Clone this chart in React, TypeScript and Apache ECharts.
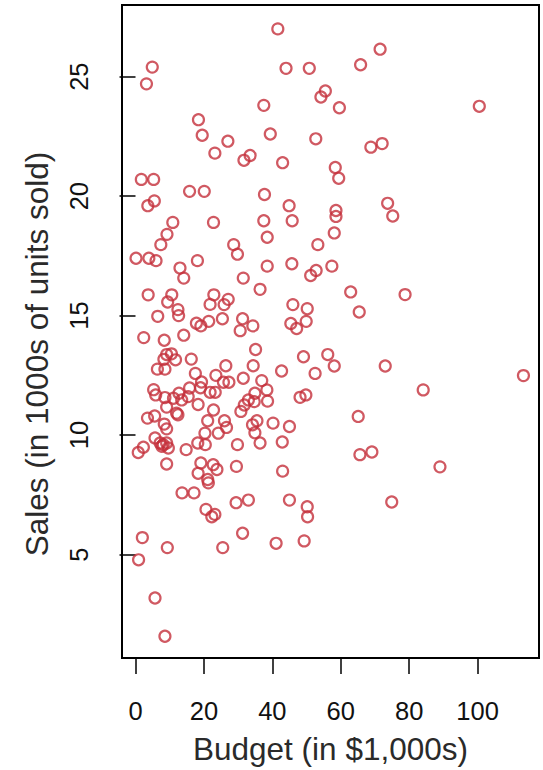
import React, { useEffect, useRef } from "react";
import * as echarts from "echarts";

const budget: number[] = [
  4.9, 3.2, 18.4, 19.5, 27.0, 23.2, 33.5, 31.7, 1.7, 5.3, 15.8, 20.1, 5.5, 3.6, 10.9, 22.8,
  41.6, 71.5, 44.0, 50.8, 65.8, 55.5, 54.2, 59.6, 37.5, 39.4, 52.7, 68.8, 72.1, 43.0, 58.4, 59.4,
  37.7, 44.9, 37.5, 45.8, 58.6, 58.6, 73.7, 75.2, 100.5, 58.1, 9.2, 7.4, 0.15, 3.9, 6.0, 13.0,
  14.1, 18.1, 28.7, 29.8, 31.5, 36.4, 3.7, 10.6, 9.4, 12.4, 12.6, 6.5, 22.9, 21.8, 27.1, 25.9,
  25.4, 31.3, 34.3, 30.6, 17.8, 19.1, 21.4, 2.4, 8.4, 14.1, 35.1, 9.1, 10.5, 11.7, 8.3, 16.3,
  6.4, 8.6, 26.4, 34.4, 17.5, 23.5, 31.5, 19.3, 19.0, 25.7, 27.3, 15.8, 5.3, 5.9, 21.8, 23.3,
  8.6, 11.1, 12.7, 13.5, 15.4, 18.3, 9.1, 12.0, 12.4, 3.5, 5.6, 8.4, 9.1, 5.7, 7.2, 8.1,
  9.1, 7.7, 9.6, 0.8, 2.3, 14.8, 18.2, 9.1, 19.1, 18.3, 38.4, 34.9, 34.7, 38.6, 33.0, 31.8,
  30.8, 22.8, 21.1, 26.0, 26.6, 24.2, 20.3, 20.4, 35.5, 34.2, 34.9, 36.4, 40.2, 29.8, 22.7, 23.8,
  29.5, 38.5, 53.3, 38.5, 45.7, 52.8, 51.2, 57.4, 62.9, 46.0, 50.2, 45.4, 47.1, 49.9, 65.4, 49.1,
  56.2, 58.1, 42.7, 52.5, 73.0, 36.9, 48.1, 49.8, 65.1, 45.0, 42.9, 65.6, 69.1, 78.8, 84.1, 113.4,
  89.0, 74.9, 43.0, 33.0, 45.0, 50.2, 50.3, 41.1, 49.3, 21.1, 21.3, 13.6, 17.1, 20.6, 23.2, 22.3,
  29.4, 2.0, 9.3, 0.9, 25.5, 31.3, 5.7, 8.6
];

const sales: number[] = [
  25.4, 24.7, 23.2, 22.55, 22.3, 21.8, 21.7, 21.5, 20.7, 20.7, 20.2, 20.2, 19.8, 19.6, 18.9, 18.9,
  27.0, 26.15, 25.35, 25.35, 25.5, 24.4, 24.15, 23.7, 23.8, 22.6, 22.4, 22.05, 22.2, 21.4, 21.2, 20.75,
  20.07, 19.6, 18.97, 18.97, 19.4, 19.15, 19.7, 19.17, 23.76, 18.46, 18.4, 17.97, 17.4, 17.4, 17.3, 16.99,
  16.57, 17.3, 17.97, 17.57, 16.57, 16.1, 15.87, 15.87, 15.57, 15.25, 15.0, 14.97, 15.87, 15.47, 15.68, 15.46,
  14.87, 14.87, 14.57, 14.37, 14.68, 14.57, 14.76, 14.08, 13.97, 14.18, 13.58, 13.37, 13.4, 13.15, 13.17, 13.18,
  12.76, 12.76, 12.9, 12.9, 12.58, 12.5, 12.38, 12.22, 11.98, 12.21, 12.21, 11.97, 11.9, 11.68, 11.79, 11.79,
  11.57, 11.54, 11.75, 11.47, 11.61, 11.28, 11.17, 10.92, 10.85, 10.71, 10.8, 10.46, 10.26, 9.88, 9.67, 9.6,
  9.67, 9.53, 9.46, 9.27, 9.49, 9.39, 9.67, 8.79, 8.83, 8.4, 11.89, 11.75, 11.4, 11.42, 11.47, 11.26,
  10.99, 11.05, 10.6, 10.6, 10.32, 10.08, 10.08, 9.6, 10.6, 10.43, 10.1, 9.67, 10.5, 9.6, 8.76, 8.56,
  8.69, 18.28, 17.97, 17.07, 17.17, 16.89, 16.68, 17.07, 15.99, 15.46, 15.29, 14.67, 14.46, 14.76, 15.15, 13.28,
  13.37, 12.89, 12.68, 12.58, 12.89, 12.28, 11.58, 11.68, 10.78, 10.36, 9.71, 9.18, 9.29, 15.88, 11.89, 12.49,
  8.67, 7.2, 8.49, 7.28, 7.28, 7.0, 6.58, 5.47, 5.57, 8.14, 8.0, 7.58, 7.58, 6.89, 6.68, 6.58,
  7.17, 5.71, 5.29, 4.78, 5.29, 5.89, 3.18, 1.58
];

const xTicks: number[] = [0, 20, 40, 60, 80, 100];
const yTicks: number[] = [5, 10, 15, 20, 25];
const xTitle = "Budget (in $1,000s)";
const yTitle = "Sales (in 1000s of units sold)";

export default function App() {
  const ref = useRef<HTMLDivElement>(null);
  useEffect(() => {
    if (!ref.current) return;
    const chart = echarts.init(ref.current, undefined, { renderer: "svg" });
    const pts = budget.map((b, i) => [b, sales[i]]);
    const font = "'Liberation Sans', Arial, Helvetica, sans-serif";
    chart.setOption({
      animation: false,
      backgroundColor: "#ffffff",
      grid: {
        left: 122,
        right: 4,
        top: 5,
        bottom: 109,
        show: true,
        borderColor: "#000",
        borderWidth: 2,
        backgroundColor: "transparent",
      },
      graphic: [
        {
          type: "text",
          x: 37,
          y: 354,
          rotation: Math.PI / 2,
          style: {
            text: yTitle,
            fontSize: 31.5,
            fontFamily: font,
            fill: "#2a2a2a",
            textAlign: "center",
            textVerticalAlign: "middle",
          },
        },
      ],
      xAxis: {
        type: "value",
        min: -3.95,
        max: 117.95,
        splitLine: { show: false },
        axisLine: { show: false },
        axisTick: {
          show: true,
          customValues: xTicks,
          length: 16,
          lineStyle: { color: "#000", width: 1.5 },
        },
        axisLabel: {
          customValues: xTicks,
          fontSize: 25.5,
          color: "#111",
          fontFamily: font,
          margin: 40,
        },
        name: xTitle,
        nameLocation: "middle",
        nameGap: 75,
        nameTextStyle: { fontSize: 31.5, color: "#2a2a2a", fontFamily: font },
      },
      yAxis: {
        type: "value",
        min: 0.67,
        max: 28.0,
        splitLine: { show: false },
        axisLine: { show: false },
        axisTick: {
          show: true,
          customValues: yTicks,
          length: 16,
          lineStyle: { color: "#000", width: 1.5 },
        },
        axisLabel: {
          customValues: yTicks,
          fontSize: 25.5,
          color: "#111",
          fontFamily: font,
          rotate: 90,
          margin: 30,
        },
      },
      series: [
        {
          type: "scatter",
          data: pts,
          symbol: "circle",
          symbolSize: 11,
          itemStyle: {
            color: "rgba(0,0,0,0)",
            borderColor: "#c4303b",
            borderWidth: 2.2,
          },
        },
      ],
    });
    return () => chart.dispose();
  }, []);
  return <div ref={ref} style={{ width: 543, height: 770, position: "absolute", left: 0, top: 0 }} />;
}
